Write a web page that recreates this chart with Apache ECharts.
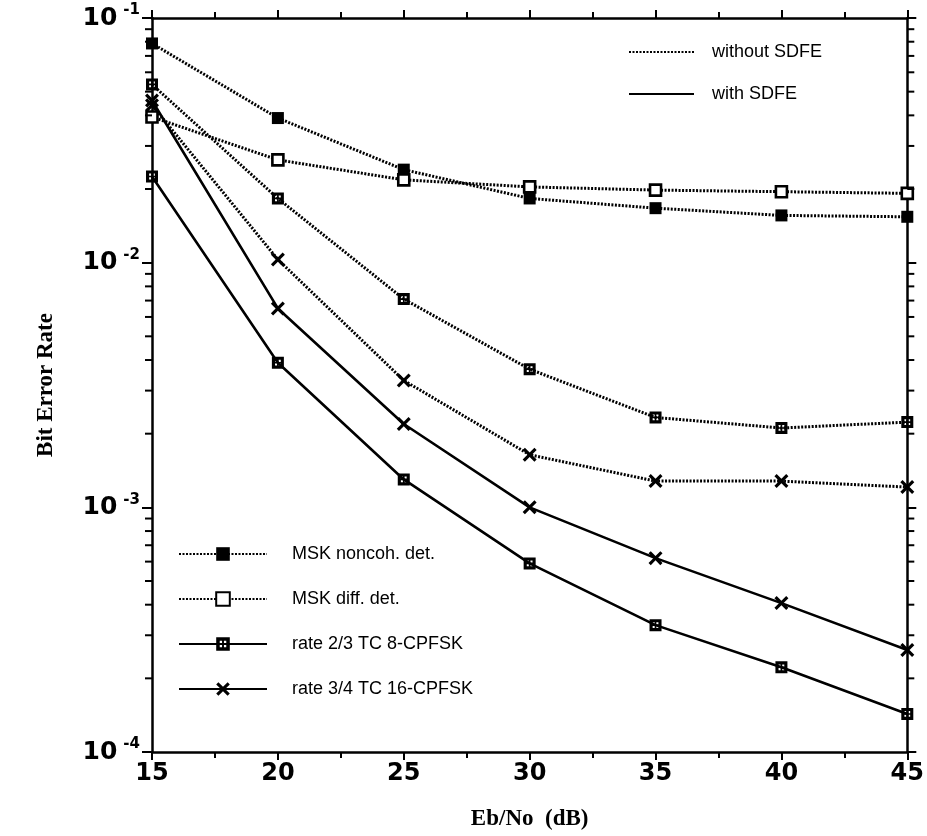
<!DOCTYPE html>
<html>
<head>
<meta charset="utf-8">
<script src="https://cdn.jsdelivr.net/npm/echarts@6/dist/echarts.min.js"></script>
<style>
html,body{margin:0;padding:0;background:#fff;}
#chart{width:927px;height:836px;}
</style>
</head>
<body>
<div id="chart"></div>
<script>
// ---- data ----
const ebno = [15, 20, 25, 30, 35, 40, 45];
const mskNoncoh = [0.0787, 0.039, 0.024, 0.0183, 0.0167, 0.0156, 0.0154];
const mskDiff = [0.0394, 0.0263, 0.0218, 0.0204, 0.0198, 0.0195, 0.0192];
const tc8Without = [0.0535, 0.0183, 0.0071, 0.00367, 0.00233, 0.00211, 0.00223];
const tc16Without = [0.044, 0.0103, 0.0033, 0.00164, 0.00128, 0.00128, 0.00121];
const tc8With = [0.0225, 0.0039, 0.0013, 0.00059, 0.00033, 0.000222, 0.000143];
const tc16With = [0.046, 0.0065, 0.00219, 0.00100, 0.00062, 0.000406, 0.000261];
const yMin = 1e-4, yMax = 1e-1;
const xMin = 15, xMax = 45;

const names = {
  noncoh: 'MSK noncoh. det.',
  diff: 'MSK diff. det.',
  tc8: 'rate 2/3 TC 8-CPFSK',
  tc16: 'rate 3/4 TC 16-CPFSK',
  without: 'without SDFE',
  with: 'with SDFE'
};

const pairs = arr => ebno.map((x, i) => [x, arr[i]]);

// minor log tick values (2..9 x decade)
const minorVals = [];
for (let e = -4; e <= -2; e++) {
  for (let m = 2; m <= 9; m++) minorVals.push(m * Math.pow(10, e));
}

const gridSym = 'path://M0,0 L10,0 L10,10 L0,10 Z M2.6,2.6 L2.6,4.3 L4.3,4.3 L4.3,2.6 Z M5.7,2.6 L5.7,4.3 L7.4,4.3 L7.4,2.6 Z M2.6,5.7 L2.6,7.4 L4.3,7.4 L4.3,5.7 Z M5.7,5.7 L5.7,7.4 L7.4,7.4 L7.4,5.7 Z';
const xSym = 'path://M0,1.6 L1.6,0 L5,3.4 L8.4,0 L10,1.6 L6.6,5 L10,8.4 L8.4,10 L5,6.6 L1.6,10 L0,8.4 L3.4,5 Z';

const dotted = { color: '#000', width: 3, type: [2, 1.5] };
const solid = { color: '#000', width: 2.6, type: 'solid' };

const chart = echarts.init(document.getElementById('chart'), null, { renderer: 'canvas' });

const axisLineStyle = { color: '#000', width: 2.5 };

const option = {
  animation: false,
  backgroundColor: '#fff',
  grid: { left: 152, top: 18, right: 19, bottom: 81, containLabel: false },
  xAxis: [
    {
      type: 'value', position: 'bottom', min: xMin, max: xMax, interval: 5,
      axisLine: { show: true, onZero: false, lineStyle: axisLineStyle },
      axisTick: { show: true, inside: false, length: 8, lineStyle: { color: '#000', width: 2 } },
      minorTick: { show: true, splitNumber: 2, length: 6, lineStyle: { color: '#000', width: 2 } },
      splitLine: { show: false },
      axisLabel: { margin: 10, color: '#000', fontFamily: 'DejaVu Sans', fontWeight: 'bold', fontSize: 24 },
      name: 'Eb/No  (dB)', nameLocation: 'middle', nameGap: 56,
      nameTextStyle: { fontFamily: 'Liberation Serif', fontWeight: 'bold', fontSize: 23, color: '#000' }
    },
    {
      type: 'value', position: 'top', min: xMin, max: xMax, interval: 5,
      axisLine: { show: true, onZero: false, lineStyle: axisLineStyle },
      axisTick: { show: true, inside: false, length: 8, lineStyle: { color: '#000', width: 2 } },
      minorTick: { show: true, splitNumber: 2, length: 6, lineStyle: { color: '#000', width: 2 } },
      splitLine: { show: false },
      axisLabel: { show: false }
    }
  ],
  yAxis: [
    {
      type: 'log', logBase: 10, min: yMin, max: yMax, position: 'left',
      axisLine: { show: true, onZero: false, lineStyle: axisLineStyle },
      axisTick: { show: true, inside: false, length: 10, lineStyle: { color: '#000', width: 2 } },
      splitLine: { show: false },
      axisLabel: {
        margin: 12, color: '#000',
        formatter: v => '{b|10}{s|' + Math.round(Math.log10(v)) + '}',
        rich: {
          b: { fontFamily: 'DejaVu Sans', fontWeight: 'bold', fontSize: 25, lineHeight: 30, color: '#000' },
          s: { fontFamily: 'DejaVu Sans', fontWeight: 'bold', fontSize: 15, lineHeight: 15, verticalAlign: 'top', padding: [0, 0, 0, 6], color: '#000' }
        }
      },
      name: 'Bit Error Rate', nameLocation: 'middle', nameGap: 94, nameRotate: 90,
      nameTextStyle: { fontFamily: 'Liberation Serif', fontWeight: 'bold', fontSize: 23, color: '#000' }
    },
    {
      type: 'log', logBase: 10, min: yMin, max: yMax, position: 'right',
      axisLine: { show: true, onZero: false, lineStyle: axisLineStyle },
      axisTick: { show: true, inside: false, length: 9, lineStyle: { color: '#000', width: 2 } },
      splitLine: { show: false },
      axisLabel: { show: false }
    }
  ],
  legend: [
    {
      data: [names.noncoh, names.diff, names.tc8, names.tc16],
      orient: 'vertical', left: 173, top: 540,
      itemWidth: 88, itemHeight: 17, itemGap: 27,
      selectedMode: false,
      textStyle: { fontFamily: 'Liberation Sans', fontSize: 18, color: '#000', padding: [0, 0, 0, 20] }
    },
    {
      data: [names.without, names.with],
      orient: 'vertical', left: 623, top: 38,
      itemWidth: 65, itemHeight: 12, itemGap: 24,
      selectedMode: false,
      textStyle: { fontFamily: 'Liberation Sans', fontSize: 18, color: '#000', padding: [0, 0, 0, 13] }
    }
  ],
  series: [
    {
      name: names.tc8, type: 'line', data: pairs(tc8With), lineStyle: solid,
      symbol: gridSym, symbolSize: 12, itemStyle: { color: '#000' }, z: 3
    },
    {
      name: names.tc16, type: 'line', data: pairs(tc16With), lineStyle: solid,
      symbol: xSym, symbolSize: 14, itemStyle: { color: '#000' }, z: 3
    },
    {
      name: names.noncoh, type: 'line', data: pairs(mskNoncoh), lineStyle: dotted,
      symbol: 'rect', symbolSize: 12, itemStyle: { color: '#000' }, z: 3
    },
    {
      name: names.diff, type: 'line', data: pairs(mskDiff), lineStyle: dotted,
      symbol: 'rect', symbolSize: 11, itemStyle: { color: '#fff', borderColor: '#000', borderWidth: 2.6 }, z: 4
    },
    {
      name: names.tc8, type: 'line', data: pairs(tc8Without), lineStyle: dotted,
      symbol: gridSym, symbolSize: 12, itemStyle: { color: '#000' }, z: 3
    },
    {
      name: names.tc16, type: 'line', data: pairs(tc16Without), lineStyle: dotted,
      symbol: xSym, symbolSize: 14, itemStyle: { color: '#000' }, z: 3
    },
    { name: names.without, type: 'line', data: [], lineStyle: dotted, symbol: 'none', itemStyle: { color: 'rgba(0,0,0,0)', borderColor: 'rgba(0,0,0,0)' } },
    { name: names.with, type: 'line', data: [], lineStyle: solid, symbol: 'none', itemStyle: { color: 'rgba(0,0,0,0)', borderColor: 'rgba(0,0,0,0)' } },
    {
      type: 'custom', name: 'minorTicks', silent: true, clip: false,
      data: minorVals.map(v => [xMin, v]),
      encode: { x: 0, y: 1 },
      renderItem: (params, api) => {
        const v = api.value(1);
        const l = api.coord([xMin, v]);
        const r = api.coord([xMax, v]);
        return {
          type: 'group',
          children: [
            { type: 'line', shape: { x1: l[0] - 7, y1: l[1], x2: l[0], y2: l[1] }, style: { stroke: '#000', lineWidth: 2 } },
            { type: 'line', shape: { x1: r[0], y1: r[1], x2: r[0] + 7, y2: r[1] }, style: { stroke: '#000', lineWidth: 2 } }
          ]
        };
      },
      z: 5
    }
  ]
};
chart.setOption(option);
</script>
</body>
</html>
